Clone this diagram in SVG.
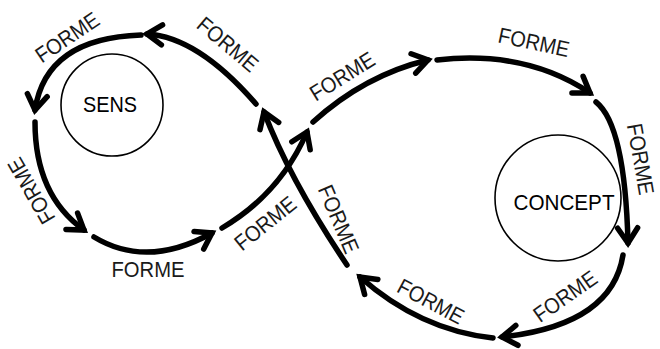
<svg xmlns="http://www.w3.org/2000/svg" width="660" height="349" viewBox="0 0 660 349">
<style>
.a{fill:none;stroke:#000;stroke-width:5.5;stroke-linecap:round;marker-end:url(#ah)}
.n{fill:#fff;stroke:#000;stroke-width:1.6}
.nt{font-family:"Liberation Sans",Arial,sans-serif;font-size:22px;fill:#000;text-anchor:middle}
.l{font-family:"Liberation Sans",Arial,sans-serif;font-size:22px;fill:#1a1a1a;text-anchor:middle}
</style>
<defs>
<marker id="ah" markerUnits="userSpaceOnUse" orient="auto" markerWidth="40" markerHeight="40" viewBox="-20 -20 40 40" refX="0" refY="0" overflow="visible">
<path d="M-15,-10 L0,0 L-15,10" fill="none" stroke="#000" stroke-width="5.5" stroke-linecap="round" stroke-linejoin="miter"/>
</marker>
</defs>
<rect width="660" height="349" fill="#fff"/>
<g id="sens">
<circle class="n" cx="112" cy="105" r="51"/>
<text class="nt" x="110" y="112" textLength="54" lengthAdjust="spacingAndGlyphs">SENS</text>
</g>
<g id="concept">
<circle class="n" cx="558" cy="198" r="63"/>
<text class="nt" x="564" y="210" textLength="101" lengthAdjust="spacingAndGlyphs">CONCEPT</text>
</g>
<g id="connectors">
<path class="a" d="M256,104 Q198,37 147,34"/>
<path class="a" d="M141,35 Q46,38 35,110"/>
<path class="a" d="M35,122 Q35,195 84,230"/>
<path class="a" d="M94,237 Q147,269 212,233"/>
<path class="a" d="M222,228 Q280,194 307,132"/>
<path class="a" d="M313,122 Q365,75 428,60"/>
<path class="a" d="M437,60 Q526,50 590,93"/>
<path class="a" d="M596,102 Q625,125 628,243"/>
<path class="a" d="M623,255 Q612,325 502,337"/>
<path class="a" d="M493,338 Q420,330 360,277"/>
<path class="a" d="M347,265 Q290,180 264,112"/>
<g id="labels">
<text class="l" transform="translate(67,37) rotate(-34)" y="8" textLength="72" lengthAdjust="spacingAndGlyphs">FORME</text>
<text class="l" transform="translate(228,44) rotate(40)" y="8" textLength="72" lengthAdjust="spacingAndGlyphs">FORME</text>
<text class="l" transform="translate(342,76) rotate(-32)" y="8" textLength="72" lengthAdjust="spacingAndGlyphs">FORME</text>
<text class="l" transform="translate(534,42) rotate(12)" y="8" textLength="72" lengthAdjust="spacingAndGlyphs">FORME</text>
<text class="l" transform="translate(641,159) rotate(80)" y="8" textLength="72" lengthAdjust="spacingAndGlyphs">FORME</text>
<text class="l" transform="translate(31,191) rotate(-120)" y="8" textLength="72" lengthAdjust="spacingAndGlyphs">FORME</text>
<text class="l" transform="translate(148,269)" y="8" textLength="73" lengthAdjust="spacingAndGlyphs">FORME</text>
<text class="l" transform="translate(265,223) rotate(-39)" y="8" textLength="72" lengthAdjust="spacingAndGlyphs">FORME</text>
<text class="l" transform="translate(339,219) rotate(67)" y="8" textLength="72" lengthAdjust="spacingAndGlyphs">FORME</text>
<text class="l" transform="translate(431,301) rotate(28)" y="8" textLength="72" lengthAdjust="spacingAndGlyphs">FORME</text>
<text class="l" transform="translate(565,296) rotate(-35)" y="8" textLength="72" lengthAdjust="spacingAndGlyphs">FORME</text>
</g>
</g>
</svg>
